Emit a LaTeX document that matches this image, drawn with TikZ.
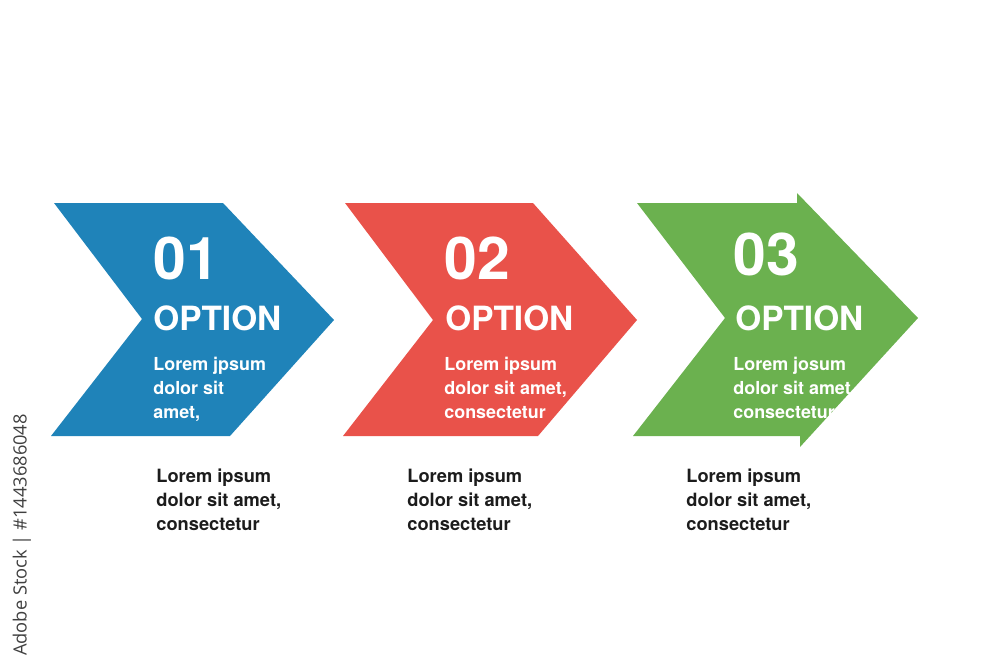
\documentclass[tikz,border=0pt]{standalone}
\usepackage{fontspec}
\setmainfont{TeX Gyre Heros}
\newfontfamily\captionfont{Open Sans}
\usepackage{xcolor}
\usepackage{tikz}
\usetikzlibrary{positioning,calc}

\definecolor{optblue}{HTML}{1F83B9}
\definecolor{optred}{HTML}{E9524A}
\definecolor{optgreen}{HTML}{6BB14F}
\definecolor{notetext}{HTML}{1C1C1C}

\begin{document}
\begin{tikzpicture}[x=0.02cm, y=-0.02cm,
    num/.style={anchor=base west, inner sep=0, text=white, font=\fontsize{33.5}{36}\selectfont\bfseries},
    opt/.style={anchor=base west, inner sep=0, text=white, font=\fontsize{19}{24}\selectfont\bfseries},
    body/.style={anchor=base west, inner sep=0, text=white, align=left, font=\fontsize{10.2}{13.66}\selectfont\bfseries},
    note/.style={anchor=base west, inner sep=0, text=notetext, align=left, font=\fontsize{10.4}{13.66}\selectfont\bfseries},
]
    \useasboundingbox (0,0) rectangle (1000,667);

    % Chevrons
    \fill[optblue] (54,203) -- (223,203) -- (334,320) -- (230,436) -- (51,436) -- (142,319) -- cycle;
    \fill[optred] (345,203) -- (533,203) -- (637,320) -- (538,436) -- (343,436) -- (433,320) -- cycle;
    \fill[optgreen] (637,203) -- (797,203) -- (797,193) -- (918,318) -- (800,447) -- (800,436)
        -- (633,436) -- (725,318) -- cycle;

    % Numbers and titles
    \node[num] (num1) at (153,279) {01};
    \node[num] (num2) at (444,279) {02};
    \node[num] (num3) at (733,275) {03};
    \node[opt] (opt1) at (153,330) {OPTION};
    \node[opt] (opt2) at (445,330) {OPTION};
    \node[opt] (opt3) at (735,330) {OPTION};

    % Text inside the chevrons (base = last line)
    \node[body] (body1) at (153,418) {Lorem jpsum\\dolor sit\\amet,};
    \node[body] (body2) at (444,418) {Lorem ipsum\\dolor sit amet,\\consectetur};
    \node[body] (body3) at (733,418) {Lorem josum\\dolor sit amet\\consectetur};

    % Notes below
    \node[note] (note1) at (156,530) {Lorem ipsum\\dolor sit amet,\\consectetur};
    \node[note] (note2) at (407,530) {Lorem ipsum\\dolor sit amet,\\consectetur};
    \node[note] (note3) at (686,530) {Lorem ipsum\\dolor sit amet,\\consectetur};

    % Side caption
    \node[rotate=90, anchor=center, inner sep=0, text=black!75, font=\captionfont\fontsize{10.4}{12}\selectfont] (stock) at (22,535) {Adobe Stock | \#1443686048};
\end{tikzpicture}
\end{document}
